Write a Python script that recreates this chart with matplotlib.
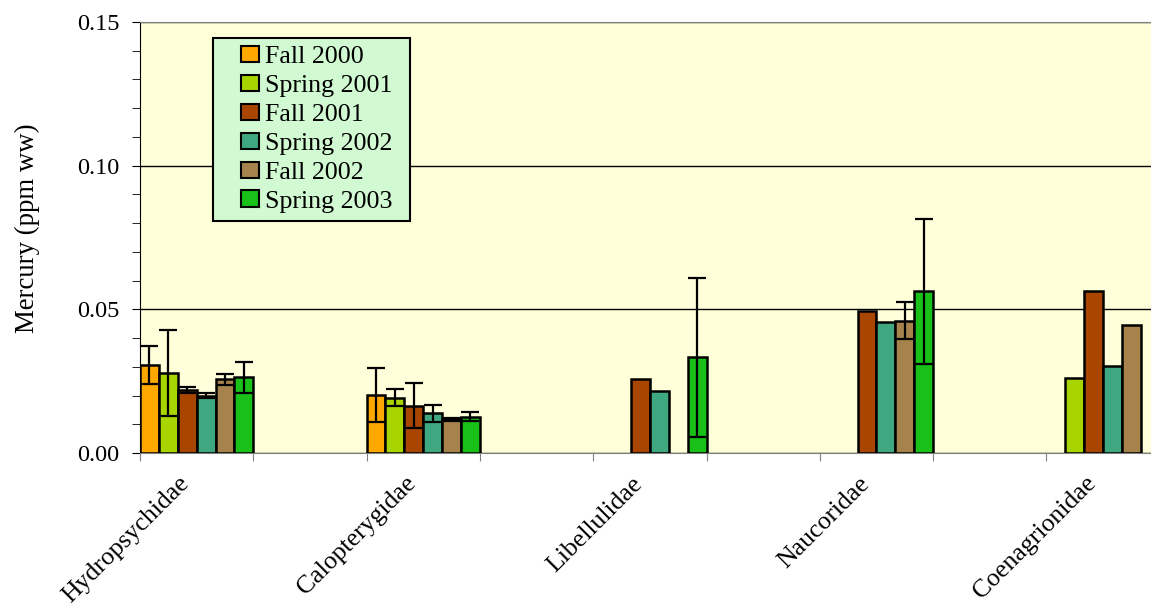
import numpy as np
import matplotlib
matplotlib.use("Agg")
import matplotlib.pyplot as plt
from matplotlib.patches import Patch, Rectangle

plt.rcParams['font.family'] = ['Liberation Serif', 'DejaVu Serif']

# mercury in insect families, ppm wet weight
families = ['Hydropsychidae', 'Calopterygidae', 'Libellulidae', 'Naucoridae', 'Coenagrionidae']
seasons = ['Fall 2000', 'Spring 2001', 'Fall 2001', 'Spring 2002', 'Fall 2002', 'Spring 2003']
colors = ['#FFA800', '#A8D400', '#A84600', '#40A880', '#A6834C', '#18C018']

nan = np.nan
fall_2000 = [0.0306, 0.0202, nan, nan, nan]
spring_2001 = [0.0278, 0.0193, nan, nan, 0.0261]
fall_2001 = [0.0219, 0.0165, 0.0258, 0.0494, 0.0563]
spring_2002 = [0.0199, 0.0138, 0.0215, 0.0456, 0.0304]
fall_2002 = [0.0257, 0.0117, nan, 0.0460, 0.0447]
spring_2003 = [0.0264, 0.0126, 0.0333, 0.0563, nan]

fall_2000_err = [0.0067, 0.0095, nan, nan, nan]
spring_2001_err = [0.0150, 0.0030, nan, nan, nan]
fall_2001_err = [0.0009, 0.0078, nan, nan, nan]
spring_2002_err = [0.0009, 0.0030, nan, nan, nan]
fall_2002_err = [0.0019, 0.0006, nan, 0.0064, nan]
spring_2003_err = [0.0054, 0.0016, 0.0276, 0.0252, nan]

means = [fall_2000, spring_2001, fall_2001, spring_2002, fall_2002, spring_2003]
errs = [fall_2000_err, spring_2001_err, fall_2001_err, spring_2002_err, fall_2002_err, spring_2003_err]

W, H = 1151, 606
fig = plt.figure(figsize=(W / 100, H / 100), dpi=100)
ax = fig.add_axes([140 / W, 1 - 453 / H, 1133 / W, 431 / H])
ax.set_facecolor('#FFFFD9')

n = len(seasons)
w = 1 / n
for j in range(n):
    m = np.array(means[j])
    e = np.array(errs[j])
    x = np.arange(len(families)) * 2 + (j + 0.5) * w
    ok = ~np.isnan(m)
    ax.bar(x[ok], m[ok], width=w, color=colors[j], edgecolor='black', linewidth=1.8, zorder=3)
    ok_e = ok & ~np.isnan(e)
    ax.errorbar(x[ok_e], m[ok_e], yerr=e[ok_e], fmt='none', ecolor='black',
                elinewidth=1.6, capsize=6.8, capthick=1.6, zorder=4)

ax.set_xlim(0, 10)
ax.set_ylim(0, 0.15)
ax.set_yticks([0, 0.05, 0.10, 0.15])
ax.set_yticklabels(['0.00', '0.05', '0.10', '0.15'])
ax.set_yticks(np.arange(0, 0.151, 0.01), minor=True)
ax.yaxis.grid(True, which='major', color='black', linewidth=1, zorder=1)
ax.set_axisbelow(True)

# every second category slot carries a family, label sits a little left of the slot centre
ax.set_xticks(range(11))
ax.set_xticklabels([])
ax.set_xticks(np.arange(len(families)) * 2 + 0.34, minor=True)
ax.set_xticklabels(families, minor=True, rotation=45, ha='right', va='top',
                   rotation_mode='anchor', fontsize=18.5)
ax.tick_params(axis='x', which='major', length=6, color='#808080', direction='out')
ax.tick_params(axis='x', which='minor', length=0, pad=14)
ax.tick_params(axis='y', which='both', length=6, color='black', direction='out', labelsize=17.5, pad=9)

for s in ['top', 'right', 'bottom']:
    ax.spines[s].set_color('#808080')
ax.spines['left'].set_color('black')

ax.set_ylabel('Mercury (ppm ww)', fontsize=19.3)
ax.yaxis.set_label_coords(-100 / 1133, (453 - 228) / 431)

# legend box, drawn separately so the keys can sit indented like the original
fig.patches.append(Rectangle((213 / W, 1 - 221 / H), 197 / W, 183 / H, transform=fig.transFigure,
                             facecolor='#D2FAD2', edgecolor='black', linewidth=1.5, zorder=5))
handles = [Patch(facecolor=c, edgecolor='black', linewidth=1.5) for c in colors]
leg = fig.legend(handles, seasons, loc='upper left', bbox_to_anchor=(241 / W, 1 - 46 / H),
                 fontsize=18.7, frameon=False, handlelength=0.68, handleheight=0.6,
                 handletextpad=0.25, labelspacing=0.25, borderpad=0, borderaxespad=0)
leg.set_zorder(6)

fig.savefig('out.png', dpi=100)
